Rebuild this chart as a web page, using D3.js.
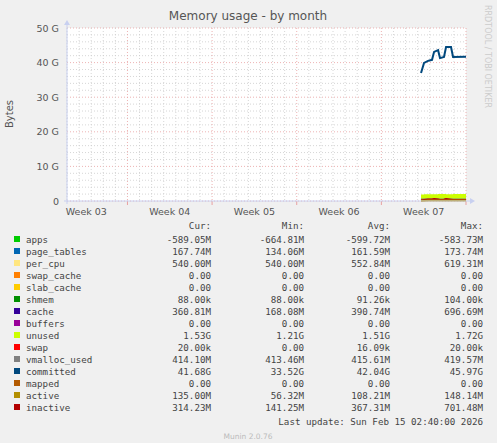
<!DOCTYPE html>
<html><head><meta charset="utf-8">
<script src="https://cdn.jsdelivr.net/npm/d3@7"></script>
<style>
body{margin:0;background:#f0f0f0;}
text{font-family:"DejaVu Sans",sans-serif;fill:#555;}
.mono{font-family:"DejaVu Sans Mono",monospace;font-size:9.2px;fill:#444;}
</style></head><body>
<svg id="chart" width="497" height="443"></svg>
<script>
// time in days from start of window (week 03 boundary at day 5)
const days = [29.28, 29.53, 29.86, 30.19, 30.36, 30.69, 30.85, 31.18, 31.35, 31.76, 31.93, 33.0];
const weekLabels = ["Week 03", "Week 04", "Week 05", "Week 06", "Week 07"];
const weekCenters = [1.6, 8.5, 15.5, 22.5, 29.5];

// values in GB
const apps       = [-0.60, -0.58, -0.59, -0.60, -0.61, -0.60, -0.59, -0.60, -0.62, -0.60, -0.59, -0.59];
const pageTables = [0.16, 0.16, 0.16, 0.16, 0.17, 0.16, 0.16, 0.16, 0.17, 0.17, 0.16, 0.17];
const perCpu     = [0.54, 0.54, 0.54, 0.54, 0.54, 0.54, 0.54, 0.54, 0.54, 0.54, 0.54, 0.54];
const cache      = [0.20, 0.35, 0.40, 0.38, 0.45, 0.42, 0.36, 0.40, 0.50, 0.42, 0.36, 0.36];
const unused     = [1.60, 1.50, 1.45, 1.50, 1.40, 1.48, 1.55, 1.50, 1.35, 1.45, 1.53, 1.53];
const vmalloc    = [0.41, 0.41, 0.42, 0.42, 0.42, 0.41, 0.41, 0.42, 0.42, 0.41, 0.41, 0.41];
const committed  = [37.0, 39.9, 40.5, 40.8, 43.1, 43.6, 41.3, 41.6, 44.5, 44.5, 41.6, 41.68];
const active     = [0.06, 0.10, 0.12, 0.14, 0.14, 0.13, 0.14, 0.13, 0.14, 0.13, 0.13, 0.135];
const inactive   = [0.14, 0.30, 0.40, 0.45, 0.55, 0.40, 0.32, 0.38, 0.60, 0.40, 0.31, 0.31];

const legendRows = [
  ["apps", "#00cc00", "-589.05M", "-664.81M", "-599.72M", "-583.73M"],
  ["page_tables", "#0066b3", "167.74M", "134.06M", "161.59M", "173.74M"],
  ["per_cpu", "#ffe680", "540.00M", "540.00M", "552.84M", "619.31M"],
  ["swap_cache", "#ff8000", "0.00", "0.00", "0.00", "0.00"],
  ["slab_cache", "#ffcc00", "0.00", "0.00", "0.00", "0.00"],
  ["shmem", "#008f00", "88.00k", "88.00k", "91.26k", "104.00k"],
  ["cache", "#330099", "360.81M", "168.08M", "390.74M", "696.69M"],
  ["buffers", "#990099", "0.00", "0.00", "0.00", "0.00"],
  ["unused", "#ccff00", "1.53G", "1.21G", "1.51G", "1.72G"],
  ["swap", "#ff0000", "20.00k", "0.00", "16.09k", "20.00k"],
  ["vmalloc_used", "#808080", "414.10M", "413.46M", "415.61M", "419.57M"],
  ["committed", "#00487d", "41.68G", "33.52G", "42.04G", "45.97G"],
  ["mapped", "#b35a00", "0.00", "0.00", "0.00", "0.00"],
  ["active", "#b38f00", "135.00M", "56.32M", "108.21M", "148.14M"],
  ["inactive", "#b30000", "314.23M", "141.25M", "367.31M", "701.48M"]
];

const svg = d3.select("#chart");
const pL = 67, pR = 466, pT = 28, pB = 201;
const x = d3.scaleLinear().domain([0, 33]).range([pL, pR]);
const y = d3.scaleLinear().domain([0, 50]).range([pB, pT]);

svg.append("rect").attr("x", pL).attr("y", pT).attr("width", pR - pL).attr("height", pB - pT).attr("fill", "#fff");

/* grid */
const minorY = d3.range(0, 51, 2), minorX = d3.range(0, 34, 1);
svg.selectAll(".gy").data(minorY).enter().append("line")
  .attr("x1", pL).attr("x2", pR).attr("y1", d => y(d)).attr("y2", d => y(d))
  .attr("stroke", d => d % 10 ? "#ccc" : "#e8a0a0").attr("stroke-dasharray", "1,2").attr("stroke-width", 0.8);
svg.selectAll(".gx").data(minorX).enter().append("line")
  .attr("y1", pT).attr("y2", pB).attr("x1", d => x(d)).attr("x2", d => x(d))
  .attr("stroke", d => (d - 5) % 7 ? "#ccc" : "#e8a0a0").attr("stroke-dasharray", "1,2").attr("stroke-width", 0.8);
svg.selectAll(".tk").data([5, 12, 19, 26, 33]).enter().append("line")
  .attr("x1", d => x(d)).attr("x2", d => x(d)).attr("y1", pB).attr("y2", pB + 4).attr("stroke", "#e8a0a0");

/* stacked areas */
const g = svg.append("g");
g.append("clipPath").attr("id", "clip").append("rect").attr("x", pL).attr("y", pT).attr("width", pR - pL).attr("height", pB - pT);
const stackSeries = [[apps, "#00cc00"], [pageTables, "#0066b3"], [perCpu, "#ffe680"], [cache, "#330099"], [unused, "#ccff00"]];
let base = days.map(() => 0);
stackSeries.forEach(([vals, col]) => {
  const lo = base.slice();
  const hi = base.map((b, i) => b + vals[i]);
  const area = d3.area().curve(d3.curveStepAfter).x((d, i) => x(days[i])).y0((d, i) => y(lo[i])).y1((d, i) => y(hi[i]));
  g.append("path").datum(days).attr("d", area).attr("fill", col).attr("clip-path", "url(#clip)");
  base = hi;
});

/* lines */
[[vmalloc, "#808080"], [inactive, "#b30000"], [active, "#b38f00"], [committed, "#00487d"]].forEach(([vals, col]) => {
  const line = d3.line().x((d, i) => x(days[i])).y(d => y(d));
  svg.append("path").datum(vals).attr("d", line).attr("fill", "none").attr("stroke", col).attr("stroke-width", 2);
});

/* axes */
svg.append("line").attr("x1", pL).attr("x2", pL).attr("y1", pB + 3).attr("y2", pT - 4).attr("stroke", "#c8d0f0");
svg.append("path").attr("d", `M${pL - 3},${pT - 3}L${pL + 3},${pT - 3}L${pL},${pT - 8}Z`).attr("fill", "#c8d0f0");
svg.append("line").attr("x1", pL - 3).attr("x2", pR + 5).attr("y1", pB).attr("y2", pB).attr("stroke", "#c8d0f0");
svg.append("path").attr("d", `M${pR + 4},${pB - 3}L${pR + 4},${pB + 3}L${pR + 9},${pB}Z`).attr("fill", "#c8d0f0");

svg.selectAll(".yl").data(d3.range(0, 51, 10)).enter().append("text")
  .attr("x", 59).attr("y", d => y(d) + 3.5).attr("text-anchor", "end").attr("font-size", 9.5)
  .text(d => d ? d + " G" : "0");
svg.selectAll(".xl").data(weekLabels).enter().append("text")
  .attr("x", (d, i) => x(weekCenters[i])).attr("y", 215).attr("text-anchor", "middle").attr("font-size", 9.5).text(d => d);

svg.append("text").attr("transform", "translate(13,114) rotate(-90)").attr("text-anchor", "middle").attr("font-size", 10).text("Bytes");
svg.append("text").attr("x", 248).attr("y", 20).attr("text-anchor", "middle").attr("font-size", 12).text("Memory usage - by month");
svg.append("text").attr("transform", "translate(485,5) rotate(90)").attr("font-size", 8).style("fill", "#ccc").text("RRDTOOL / TOBI OETIKER");

/* legend */
const cols = [211, 304, 390, 483];
["Cur:", "Min:", "Avg:", "Max:"].forEach((h, i) => {
  svg.append("text").attr("class", "mono").attr("x", cols[i]).attr("y", 229).attr("text-anchor", "end").text(h);
});
const rows = svg.selectAll(".lr").data(legendRows).enter().append("g")
  .attr("transform", (d, i) => `translate(0,${243 + i * 12})`);
rows.append("rect").attr("x", 14).attr("y", -7).attr("width", 6).attr("height", 6).attr("fill", d => d[1]);
rows.append("text").attr("class", "mono").attr("x", 26).attr("y", 0).text(d => d[0]);
[2, 3, 4, 5].forEach((k, i) => {
  rows.append("text").attr("class", "mono").attr("x", cols[i]).attr("text-anchor", "end").text(d => d[k]);
});
svg.append("text").attr("class", "mono").attr("x", 483).attr("y", 425).attr("text-anchor", "end").text("Last update: Sun Feb 15 02:40:00 2026");
svg.append("text").attr("x", 248).attr("y", 439).attr("text-anchor", "middle").attr("font-size", 7.5).style("fill", "#bbb").text("Munin 2.0.76");
</script>
</body></html>
